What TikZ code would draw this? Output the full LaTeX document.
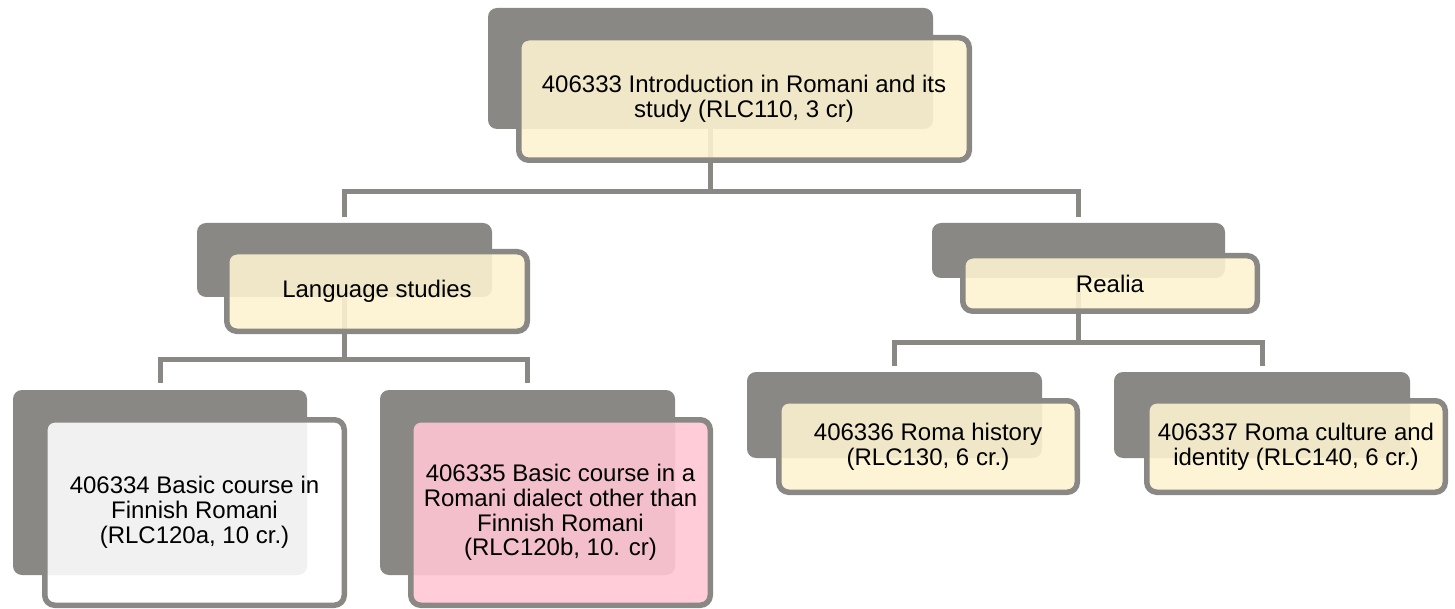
\documentclass[tikz,border=0pt]{standalone}
\usepackage{fontspec}
\setmainfont{Liberation Sans}
\definecolor{grayc}{RGB}{138,136,132}
\definecolor{creamc}{RGB}{253,243,209}
\definecolor{pinkc}{RGB}{255,198,211}
\tikzset{
  shadowbox/.style={rectangle, rounded corners=9pt, fill=grayc, draw=none, inner sep=0pt},
  frontbox/.style={rectangle, rounded corners=10pt, draw=grayc, line width=5.5pt, fill=#1, fill opacity=0.89, text opacity=1, inner sep=0pt, align=center, font=\fontsize{24}{24.8}\selectfont},
  conn/.style={draw=grayc, line width=5pt},
}
\begin{document}
\begin{tikzpicture}[x=1pt,y=-1pt]
\useasboundingbox (0,0) rectangle (1455,609);
% shadow boxes
\node[shadowbox, minimum width=445pt, minimum height=121pt] (s0) at (710.5,68.5) {};
\node[shadowbox, minimum width=295pt, minimum height=74pt] (s1) at (344.5,260) {};
\node[shadowbox, minimum width=293pt, minimum height=55pt] (s2) at (1078.5,250.5) {};
\node[shadowbox, minimum width=294pt, minimum height=185pt] (s3) at (160,482.5) {};
\node[shadowbox, minimum width=295pt, minimum height=185pt] (s4) at (527.5,482.5) {};
\node[shadowbox, minimum width=295pt, minimum height=86pt] (s5) at (894.5,415) {};
\node[shadowbox, minimum width=296pt, minimum height=86pt] (s6) at (1262,415) {};
% connectors
\draw[conn] (s0.south) -- (s0.south |- 0,192);
\draw[conn] ([yshift=6pt]s1.north) |- (s0.south |- 0,192) -| ([yshift=6pt]s2.north);
\draw[conn] (s1.south) -- (s1.south |- 0,359);
\draw[conn] ([yshift=7pt]s3.north) |- (s1.south |- 0,359) -| ([yshift=7pt]s4.north);
\draw[conn] (s2.south) -- (s2.south |- 0,342);
\draw[conn] ([yshift=6pt]s5.north) |- (s2.south |- 0,342) -| ([yshift=6pt]s6.north);
% front boxes
\node[frontbox=creamc, minimum width=450.5pt, minimum height=122.5pt] (f0) at (744,99) {406333 Introduction in Romani and its\\study (RLC110, 3 cr)};
\node[frontbox=creamc, minimum width=300.5pt, minimum height=79.5pt] (f1) at (377,291.5) {Language studies};
\node[frontbox=creamc, minimum width=294.5pt, minimum height=55.5pt] (f2) at (1110,283.5) {Realia};
\node[frontbox=white, minimum width=299.5pt, minimum height=185.5pt] (f3) at (194.5,512.5) {406334 Basic course in\\Finnish Romani\\(RLC120a, 10 cr.)};
\node[frontbox=pinkc, minimum width=299.5pt, minimum height=185.5pt] (f4) at (560.5,512.5) {406335 Basic course in a\\Romani dialect other than\\Finnish Romani\\(RLC120b, 10. cr)};
\node[frontbox=creamc, minimum width=298.5pt, minimum height=91.5pt] (f5) at (928,446.5) {406336 Roma history\\(RLC130, 6 cr.)};
\node[frontbox=creamc, minimum width=298.5pt, minimum height=91.5pt] (f6) at (1296,446.5) {406337 Roma culture and\\identity (RLC140, 6 cr.)};
\end{tikzpicture}
\end{document}
